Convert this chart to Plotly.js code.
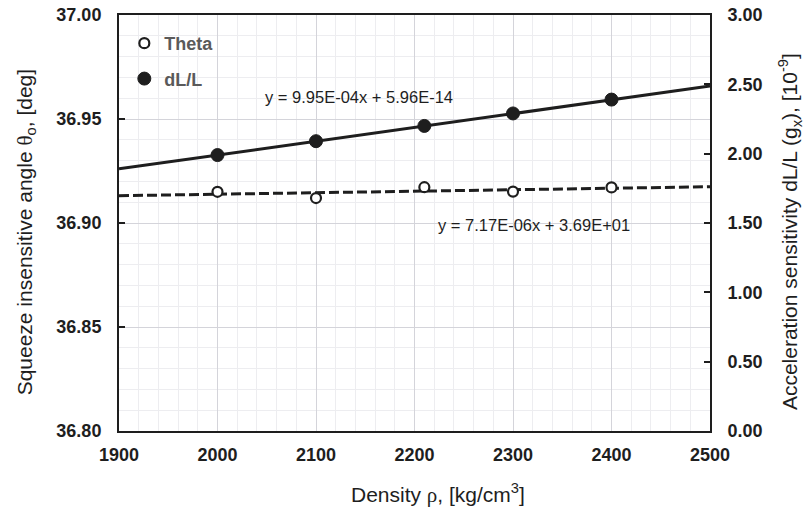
<!DOCTYPE html>
<html>
<head>
<meta charset="utf-8">
<script src="https://cdn.plot.ly/plotly-3.0.1.min.js"></script>
<style>html,body{margin:0;padding:0;background:#fff;}</style>
</head>
<body>
<div id="chart" style="width:809px;height:509px;"></div>
<script>
// ---- data ----
const density = [2000, 2100, 2210, 2300, 2400];
const theta = [36.9150, 36.9120, 36.9172, 36.9151, 36.9171];
const dLL = [1.99, 2.09, 2.20, 2.29, 2.39];
const trendX = [1900, 2500];
const thetaFit = {slope: 7.17e-06, intercept: 36.8995};
const dLLFit = {slope: 9.95e-04, intercept: 5.96e-14};
const thetaEqText = "y = 7.17E-06x + 3.69E+01";
const dLLEqText = "y = 9.95E-04x + 5.96E-14";
const xTicks = [1900, 2000, 2100, 2200, 2300, 2400, 2500];

const FONT = "Liberation Sans, Arial, Helvetica, sans-serif";
const SERIF = "Liberation Serif, Times New Roman, serif";
const INK = "#1e1e1e";

const thetaTrendY = trendX.map(x => thetaFit.slope * x + thetaFit.intercept);
const dLLTrendY = trendX.map(x => dLLFit.slope * x + dLLFit.intercept);

const traces = [
  {x: trendX, y: thetaTrendY, type: 'scatter', mode: 'lines', yaxis: 'y',
   line: {color: INK, width: 3, dash: '10px,4px'}, showlegend: false, hoverinfo: 'skip'},
  {x: trendX, y: dLLTrendY, type: 'scatter', mode: 'lines', yaxis: 'y2',
   line: {color: INK, width: 3}, showlegend: false, hoverinfo: 'skip'},
  {x: density, y: theta, name: 'Theta', type: 'scatter', mode: 'markers', yaxis: 'y',
   legendgroup: 'a',
   marker: {symbol: 'circle', size: 10, color: '#ffffff', line: {color: INK, width: 2.2}}},
  {x: density, y: dLL, name: 'dL/L', type: 'scatter', mode: 'markers', yaxis: 'y2',
   legendgroup: 'b',
   marker: {symbol: 'circle', size: 13, color: INK, line: {color: INK, width: 1}}}
];

const tickFont = {family: FONT, size: 18, color: INK, weight: 'bold'};

const layout = {
  width: 809, height: 509,
  margin: {l: 119, r: 99, t: 15, b: 78, pad: 0},
  paper_bgcolor: '#ffffff', plot_bgcolor: '#ffffff',
  showlegend: true,
  legend: {x: 0.009, y: 0.976, xanchor: 'left', yanchor: 'top', bgcolor: 'rgba(0,0,0,0)',
           font: {family: FONT, size: 18, color: '#5a5a5a', weight: 'bold'},
           tracegroupgap: 9, itemwidth: 30},
  xaxis: {range: [1900, 2500], tickvals: xTicks, tickformat: 'd',
          showgrid: true, gridcolor: '#d4d4da', gridwidth: 1,
          minor: {dtick: 20, tick0: 1900, showgrid: true, gridcolor: '#ededf0', gridwidth: 1},
          showline: true, linecolor: INK, linewidth: 2, mirror: true,
          ticks: '', zeroline: false, tickfont: tickFont, ticklabelstandoff: 6},
  yaxis: {range: [36.8, 37.0], dtick: 0.05, tick0: 36.8, tickformat: '.2f',
          showgrid: true, gridcolor: '#d4d4da', gridwidth: 1,
          minor: {dtick: 0.01, tick0: 36.8, showgrid: true, gridcolor: '#ededf0', gridwidth: 1},
          showline: true, linecolor: INK, linewidth: 2,
          ticks: 'inside', ticklen: 6, tickwidth: 2, tickcolor: INK,
          zeroline: false, tickfont: tickFont, ticklabelstandoff: 12},
  yaxis2: {range: [0, 3], dtick: 0.5, tick0: 0, tickformat: '.2f', overlaying: 'y', side: 'right',
           showgrid: false, showline: true, linecolor: INK, linewidth: 2,
           ticks: 'inside', ticklen: 6, tickwidth: 2, tickcolor: INK,
           zeroline: false, tickfont: tickFont, ticklabelstandoff: 12},
  annotations: [
    {text: 'Density <span style="font-family:' + SERIF + '">ρ</span>, [kg/cm<sup>3</sup>]',
     xref: 'paper', yref: 'paper', x: 0.539, y: -0.15, xanchor: 'center', yanchor: 'middle',
     showarrow: false, font: {family: FONT, size: 21, color: INK}},
    {text: 'Squeeze insensitive angle <span style="font-family:' + SERIF + '">θ</span><sub>o</sub>, [deg]',
     xref: 'paper', yref: 'paper', x: -0.157, y: 0.478, xanchor: 'center', yanchor: 'middle',
     textangle: -90, showarrow: false, font: {family: FONT, size: 21, color: INK}},
    {text: 'Acceleration sensitivity dL/L (g<sub>x</sub>), [10<sup>-9</sup>]',
     xref: 'paper', yref: 'paper', x: 1.135, y: 0.48, xanchor: 'center', yanchor: 'middle',
     textangle: -90, showarrow: false, font: {family: FONT, size: 21, color: INK}},
    {text: dLLEqText, xref: 'x', yref: 'y2', x: 2046, y: 2.41, xanchor: 'left', yanchor: 'middle',
     showarrow: false, font: {family: FONT, size: 16.5, color: INK}},
    {text: thetaEqText, xref: 'x', yref: 'y', x: 2222, y: 36.8992, xanchor: 'left', yanchor: 'middle',
     showarrow: false, font: {family: FONT, size: 16.5, color: INK}}
  ]
};

Plotly.newPlot('chart', traces, layout, {displayModeBar: false, staticPlot: true});
</script>
</body>
</html>
